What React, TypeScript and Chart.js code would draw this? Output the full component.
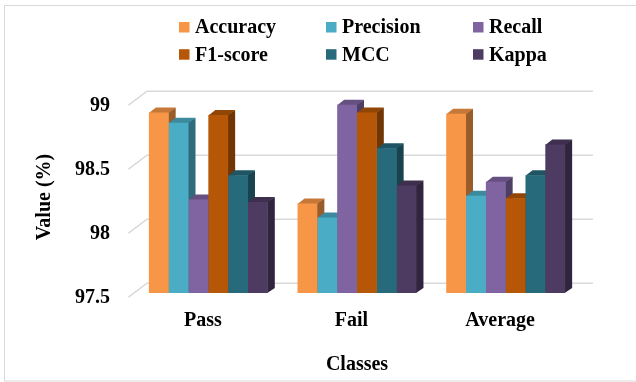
import React, { useEffect, useRef } from "react";
import { Chart, registerables } from "chart.js";

Chart.register(...registerables);

// Metric scores (%) per class
const categories = ["Pass", "Fail", "Average"];
const seriesNames = ["Accuracy", "Precision", "Recall", "F1-score", "MCC", "Kappa"];
const accuracy = [98.91, 98.2, 98.9];
const precision = [98.83, 98.09, 98.26];
const recall = [98.23, 98.97, 98.37];
const f1Score = [98.89, 98.91, 98.24];
const mcc = [98.42, 98.63, 98.42];
const kappa = [98.21, 98.34, 98.66];
const yTicks = [97.5, 98, 98.5, 99];
const seriesColors = ["#F79646", "#4BACC6", "#8064A2", "#B65708", "#276A7C", "#4D3B62"];

const FONT_FAMILY = "'Times New Roman', 'Liberation Serif', serif";
const textFont = { family: FONT_FAMILY, size: 20, weight: "bold" as const };

// Pseudo-3D offsets (pixels) relative to the plane of the bar fronts
const BAR_DX = 7;
const BAR_DY = -5;
const GRID_FRONT_DX = -5.5;
const GRID_FRONT_DY = 4.2;
const GRID_BACK_DX = 13;
const GRID_BACK_DY = -9.8;

function shade(hex: string, k: number): string {
  const n = parseInt(hex.slice(1), 16);
  const r = Math.round(((n >> 16) & 255) * k);
  const g = Math.round(((n >> 8) & 255) * k);
  const b = Math.round((n & 255) * k);
  return `rgb(${r},${g},${b})`;
}

const depthPlugin = {
  id: "depth3d",
  beforeDraw(chart: any) {
    const { ctx } = chart;
    ctx.save();
    ctx.fillStyle = "#ffffff";
    ctx.fillRect(0, 0, chart.width, chart.height);
    ctx.strokeStyle = "#d9d9d9";
    ctx.lineWidth = 1;
    ctx.strokeRect(4.5, 5.5, chart.width + 10, 375.5);
    ctx.restore();
  },
  beforeDatasetsDraw(chart: any) {
    const { ctx, chartArea, scales } = chart;
    const yScale = scales.y;
    ctx.save();
    // back-wall gridlines with their slanted side-wall segments
    ctx.strokeStyle = "#d9d9d9";
    ctx.lineWidth = 1.5;
    for (const v of yTicks) {
      const py = yScale.getPixelForValue(v);
      ctx.beginPath();
      ctx.moveTo(chartArea.left + GRID_FRONT_DX, py + GRID_FRONT_DY);
      ctx.lineTo(chartArea.left + GRID_BACK_DX, py + GRID_BACK_DY);
      ctx.lineTo(chartArea.right + GRID_BACK_DX, py + GRID_BACK_DY);
      ctx.stroke();
    }
    // collect bar geometry from the library's elements
    const bars: { l: number; r: number; t: number; b: number; c: string }[] = [];
    chart.data.datasets.forEach((ds: any, i: number) => {
      const meta = chart.getDatasetMeta(i);
      meta.data.forEach((el: any) => {
        const p = el.getProps(["x", "y", "base", "width"], true);
        bars.push({
          l: p.x - p.width / 2,
          r: p.x + p.width / 2,
          t: p.y,
          b: Math.min(p.base, chartArea.bottom),
          c: ds.backgroundColor,
        });
      });
    });
    // right side faces
    for (const bar of bars) {
      ctx.fillStyle = shade(bar.c, 0.62);
      ctx.beginPath();
      ctx.moveTo(bar.r - 0.5, bar.t);
      ctx.lineTo(bar.r + BAR_DX, bar.t + BAR_DY);
      ctx.lineTo(bar.r + BAR_DX, bar.b + BAR_DY);
      ctx.lineTo(bar.r - 0.5, bar.b);
      ctx.closePath();
      ctx.fill();
    }
    // top faces
    for (const bar of bars) {
      ctx.fillStyle = shade(bar.c, 0.8);
      ctx.beginPath();
      ctx.moveTo(bar.l, bar.t + 0.5);
      ctx.lineTo(bar.r, bar.t + 0.5);
      ctx.lineTo(bar.r + BAR_DX, bar.t + BAR_DY);
      ctx.lineTo(bar.l + BAR_DX, bar.t + BAR_DY);
      ctx.closePath();
      ctx.fill();
    }
    ctx.restore();
  },
  afterDraw(chart: any) {
    const { ctx } = chart;
    ctx.save();
    // legend: three columns, two rows
    const colX = [179, 326, 473];
    const rowBase = [33.3, 60.5];
    ctx.font = `bold 20px ${FONT_FAMILY}`;
    ctx.textBaseline = "alphabetic";
    ctx.textAlign = "left";
    chart.data.datasets.forEach((ds: any, i: number) => {
      const col = i % 3;
      const row = Math.floor(i / 3);
      const x = colX[col];
      const base = rowBase[row];
      ctx.fillStyle = ds.backgroundColor;
      ctx.fillRect(x, base - 11.3, 10.5, 10.5);
      ctx.fillStyle = "#000000";
      ctx.fillText(ds.label, x + 16, base);
    });
    ctx.restore();
  },
};

const seriesValues = [accuracy, precision, recall, f1Score, mcc, kappa];

export default function App() {
  const canvasRef = useRef<HTMLCanvasElement | null>(null);

  useEffect(() => {
    if (!canvasRef.current) return;
    const chart = new Chart(canvasRef.current, {
      type: "bar",
      data: {
        labels: categories,
        datasets: seriesNames.map((name, i) => ({
          label: name,
          data: seriesValues[i],
          backgroundColor: seriesColors[i],
          borderWidth: 0,
          categoryPercentage: 0.8,
          barPercentage: 1.0,
        })),
      },
      options: {
        animation: false,
        responsive: false,
        devicePixelRatio: 1,
        layout: { padding: { left: 33, right: 56, top: 101, bottom: 5 } },
        plugins: {
          legend: { display: false },
          tooltip: { enabled: false },
        },
        scales: {
          x: {
            grid: { display: false, drawTicks: false },
            border: { display: false },
            ticks: { font: textFont, color: "#000000", padding: 16, labelOffset: -5.5 },
            title: {
              display: true,
              text: "Classes",
              font: textFont,
              color: "#000000",
              padding: { top: 20, bottom: 0 },
            },
            afterFit: (scale: any) => {
              scale.height = 84;
            },
          },
          y: {
            min: 97.5,
            max: 99,
            grid: { display: false, drawTicks: false },
            border: { display: false },
            ticks: {
              stepSize: 0.5,
              font: textFont,
              color: "#000000",
              padding: 24,
              labelOffset: 5,
              callback: (v: any) => String(v),
            },
            title: {
              display: true,
              text: "Value (%)",
              font: textFont,
              color: "#000000",
              padding: { top: 0, bottom: 17 },
            },
            afterFit: (scale: any) => {
              scale.width = 101;
            },
          },
        },
      },
      plugins: [depthPlugin],
    });
    return () => chart.destroy();
  }, []);

  return (
    <div style={{ position: "absolute", left: 0, top: 0, width: 636, height: 382, background: "#fff" }}>
      <canvas ref={canvasRef} width={636} height={382} style={{ display: "block" }} />
    </div>
  );
}
